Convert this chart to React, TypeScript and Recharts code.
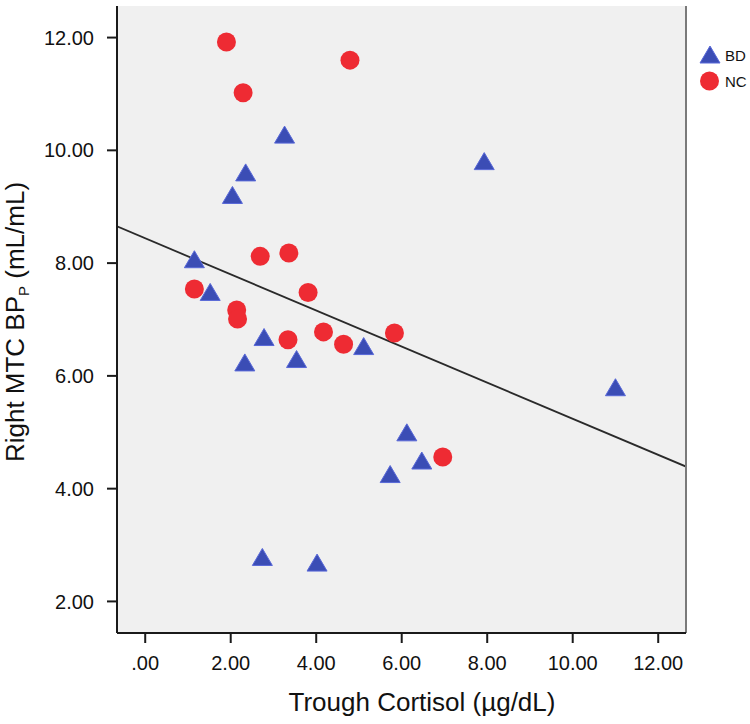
import React from "react";
import {
  ScatterChart,
  Scatter,
  XAxis,
  YAxis,
  CartesianGrid,
  ReferenceLine,
} from "recharts";

// ---- data ----
const bdCortisol = [3.26, 2.35, 2.04, 1.15, 1.52, 2.78, 5.11, 2.33, 3.54, 6.12, 6.47, 5.73, 2.74, 4.02, 7.93, 11.0];
const bdBP = [10.27, 9.6, 9.2, 8.06, 7.48, 6.68, 6.52, 6.23, 6.29, 4.99, 4.49, 4.25, 2.78, 2.68, 9.8, 5.79];

const ncCortisol = [1.9, 4.79, 2.29, 2.69, 3.36, 1.15, 3.81, 2.14, 2.16, 3.34, 4.17, 4.64, 5.83, 6.96];
const ncBP = [11.92, 11.6, 11.02, 8.12, 8.18, 7.54, 7.48, 7.17, 7.01, 6.64, 6.78, 6.56, 6.76, 4.56];

const xTicks = [0, 2, 4, 6, 8, 10, 12];
const yTicks = [2, 4, 6, 8, 10, 12];
const xDomain: [number, number] = [-0.66, 12.65];
const yDomain: [number, number] = [1.44, 12.56];

// fit line (total)
const FIT_INTERCEPT = 8.44;
const FIT_SLOPE = -0.32;

const bdData = bdCortisol.map((x, i) => ({ x, y: bdBP[i] }));
const ncData = ncCortisol.map((x, i) => ({ x, y: ncBP[i] }));

const fitSegment = [
  { x: xDomain[0], y: FIT_INTERCEPT + FIT_SLOPE * xDomain[0] },
  { x: xDomain[1], y: FIT_INTERCEPT + FIT_SLOPE * xDomain[1] },
];

const FONT = "'Liberation Sans', Arial, Helvetica, sans-serif";
const RED = "#EE2B33";
const BLUE = "#3B4DB5";
const BLUE_EDGE = "#5868D8";

const fmt = (v: number) => (v === 0 ? ".00" : v.toFixed(2));

const Triangle = (props: any) => {
  const { cx, cy } = props;
  if (cx == null || cy == null) return null;
  return (
    <polygon
      points={`${cx},${cy - 9} ${cx - 10},${cy + 8} ${cx + 10},${cy + 8}`}
      fill={BLUE}
      stroke={BLUE_EDGE}
      strokeWidth={1}
    />
  );
};

const Circle = (props: any) => {
  const { cx, cy } = props;
  if (cx == null || cy == null) return null;
  return <circle cx={cx} cy={cy} r={9.5} fill={RED} />;
};

export default function App() {
  return (
    <div style={{ position: "absolute", left: 0, top: 0, width: 750, height: 724, background: "#fff" }}>
      <ScatterChart
        width={750}
        height={724}
        margin={{ top: 6, right: 0, bottom: 0, left: 0 }}
      >
        <CartesianGrid fill="#F0F0F0" horizontal={false} vertical={false} />
        <XAxis
          xAxisId="top"
          orientation="top"
          type="number"
          dataKey="x"
          domain={xDomain}
          allowDataOverflow
          height={0}
          tick={false}
          tickLine={false}
          axisLine={{ stroke: "#7a7a7a", strokeWidth: 2 }}
        />
        <YAxis
          yAxisId="right"
          orientation="right"
          type="number"
          dataKey="y"
          domain={yDomain}
          allowDataOverflow
          width={64}
          tick={false}
          tickLine={false}
          axisLine={{ stroke: "#7a7a7a", strokeWidth: 2 }}
        />
        <XAxis
          type="number"
          dataKey="x"
          domain={xDomain}
          allowDataOverflow
          ticks={xTicks}
          tickFormatter={fmt}
          height={91}
          tickSize={10}
          tickMargin={13}
          interval={0}
          axisLine={{ stroke: "#1a1a1a", strokeWidth: 2 }}
          tickLine={{ stroke: "#1a1a1a", strokeWidth: 2 }}
          tick={{ fill: "#111", fontSize: 20, fontFamily: FONT }}
        />
        <YAxis
          type="number"
          dataKey="y"
          domain={yDomain}
          allowDataOverflow
          ticks={yTicks}
          tickFormatter={fmt}
          width={117}
          tickSize={10}
          tickMargin={13}
          interval={0}
          axisLine={{ stroke: "#1a1a1a", strokeWidth: 2 }}
          tickLine={{ stroke: "#1a1a1a", strokeWidth: 2 }}
          tick={{ fill: "#111", fontSize: 20, fontFamily: FONT }}
        />
        <ReferenceLine
          segment={fitSegment}
          stroke="#2a2a2a"
          strokeWidth={1.8}
          ifOverflow="hidden"
        />
        <Scatter name="NC" data={ncData} shape={Circle} isAnimationActive={false} />
        <Scatter name="BD" data={bdData} shape={Triangle} isAnimationActive={false} />
      </ScatterChart>
      <svg
        width={750}
        height={724}
        style={{ position: "absolute", left: 0, top: 0, pointerEvents: "none" }}
      >
        <text
          x={422}
          y={711}
          textAnchor="middle"
          fontFamily={FONT}
          fontSize={26}
          fill="#111"
        >
          Trough Cortisol (µg/dL)
        </text>
        <text
          x={322}
          y={24}
          transform="rotate(-90) translate(-644, 0)"
          textAnchor="middle"
          fontFamily={FONT}
          fontSize={26}
          fill="#111"
        >
          Right MTC BP
          <tspan fontSize={15} dy={5}>P</tspan>
          <tspan dy={-5}> (mL/mL)</tspan>
        </text>
        <polygon points="710,46 700,63 720,63" fill={BLUE} stroke={BLUE_EDGE} strokeWidth={1} />
        <text x={725} y={61} fontFamily={FONT} fontSize={15} fill="#111">BD</text>
        <circle cx={709.5} cy={81} r={9.5} fill={RED} />
        <text x={725} y={86.5} fontFamily={FONT} fontSize={15} fill="#111">NC</text>
      </svg>
    </div>
  );
}
